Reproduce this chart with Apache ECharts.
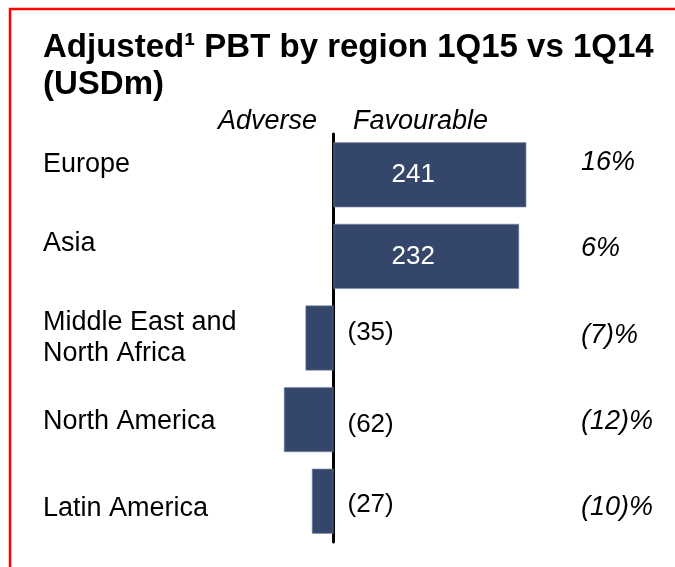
<!DOCTYPE html>
<html>
<head>
<meta charset="utf-8">
<script src="https://cdn.jsdelivr.net/npm/echarts@6/dist/echarts.min.js"></script>
<style>
  html, body { margin: 0; padding: 0; background: #fff; }
  #chart { width: 675px; height: 567px; }
</style>
</head>
<body>
<div id="chart"></div>
<script>
// data
const regions = ['Europe', 'Asia', 'Middle East and\nNorth Africa', 'North America', 'Latin America'];
const pbtChange = [241, 232, -35, -62, -27];
const pctChange = ['16%', '6%', '(7)%', '(12)%', '(10)%'];

const FONT = '"Liberation Sans", Arial, sans-serif';
const BAR_COLOR = '#34466a';

// small vertical nudges so text sits like the slide's text boxes
const regionShift = [-10, -13, 0, 2, 7];
const pctShift = [-12, -8, -3, 2, 6];
const valueShift = [0, 0, -5, 5, 4];

function shiftPad(d) {
  return d < 0 ? [0, 0, -2 * d, 0] : [2 * d, 0, 0, 0];
}

function richFor(shifts, extra) {
  const rich = {};
  shifts.forEach((d, i) => {
    rich['s' + i] = Object.assign({ padding: shiftPad(d) }, extra);
  });
  return rich;
}

function tagLines(value, index) {
  return value.split('\n').map(l => `{s${index}|${l}}`).join('\n');
}

const barData = pbtChange.map((v, i) => ({
  value: v,
  label: v >= 0
    ? { position: 'insideLeft', distance: 58, color: '#fff' }
    : { position: 'right', distance: 14, color: '#000', offset: [0, valueShift[i]] }
}));

const chart = echarts.init(document.getElementById('chart'));

chart.setOption({
  animation: false,
  backgroundColor: '#fff',
  textStyle: { fontFamily: FONT },
  title: [
    {
      text: 'Adjusted¹ PBT by region 1Q15 vs 1Q14\n(USDm)',
      left: 38,
      top: 24,
      textStyle: { fontFamily: FONT, fontSize: 33, fontWeight: 'bold', color: '#000', lineHeight: 37 }
    },
    {
      text: 'Adverse',
      right: 353,
      top: 103,
      textStyle: { fontFamily: FONT, fontSize: 27, fontStyle: 'italic', fontWeight: 'normal', color: '#000' }
    },
    {
      text: 'Favourable',
      left: 348,
      top: 103,
      textStyle: { fontFamily: FONT, fontSize: 27, fontStyle: 'italic', fontWeight: 'normal', color: '#000' }
    }
  ],
  graphic: [
    {
      type: 'rect',
      silent: true,
      shape: { x: 10, y: 9, width: 720, height: 620 },
      style: { fill: null, stroke: '#ff0000', lineWidth: 2.5 }
    }
  ],
  grid: { left: 253.5, right: 101.5, top: 134, bottom: 25, outerBoundsMode: 'none', containLabel: false },
  xAxis: {
    type: 'value',
    min: -100,
    max: 300,
    show: false
  },
  yAxis: [
    {
      type: 'category',
      inverse: true,
      data: regions,
      axisLine: { onZero: true, lineStyle: { color: '#000', width: 3 } },
      axisTick: { show: false },
      splitLine: { show: false },
      axisLabel: {
        align: 'left',
        margin: 210.5,
        fontSize: 27,
        color: '#000',
        formatter: tagLines,
        rich: richFor(regionShift, { fontSize: 27, lineHeight: 31, color: '#000', fontFamily: FONT })
      }
    },
    {
      type: 'category',
      inverse: true,
      position: 'right',
      data: pctChange,
      axisLine: { show: false, onZero: false },
      axisTick: { show: false },
      splitLine: { show: false },
      axisLabel: {
        align: 'left',
        margin: 7.5,
        fontSize: 27,
        color: '#000',
        formatter: tagLines,
        rich: richFor(pctShift, { fontSize: 27, fontStyle: 'italic', color: '#000', fontFamily: FONT })
      }
    }
  ],
  series: [
    {
      type: 'bar',
      yAxisIndex: 0,
      barWidth: 65,
      data: barData,
      itemStyle: { color: BAR_COLOR, borderColor: '#7d8cab', borderWidth: 0.6 },
      label: {
        show: true,
        fontSize: 26,
        fontFamily: FONT,
        formatter: p => p.value < 0 ? `(${Math.abs(p.value)})` : `${p.value}`
      }
    }
  ]
});
</script>
</body>
</html>
